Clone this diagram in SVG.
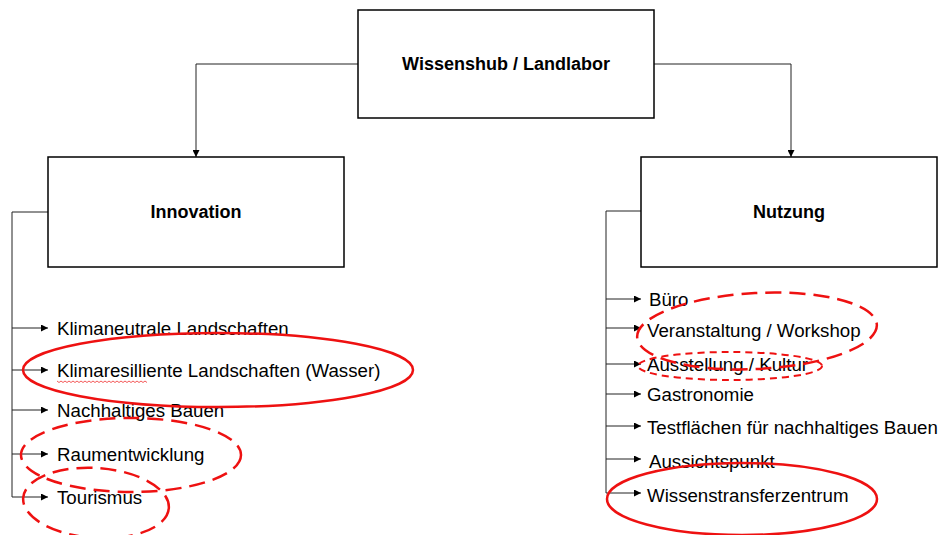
<svg xmlns="http://www.w3.org/2000/svg" width="941" height="535" viewBox="0 0 941 535">
<style>
.box{fill:#fff;stroke:#000;stroke-width:1.5}
.title{font-family:"Liberation Sans",Arial,sans-serif;font-weight:bold;font-size:18px;fill:#000;text-anchor:middle}
.item{font-family:"Liberation Sans",Arial,sans-serif;font-size:18.7px;fill:#000}
.con{fill:none;stroke:#222;stroke-width:1}
.mark{fill:none;stroke:#ee1111;stroke-width:2.5}
.dash1{stroke-dasharray:16 8}
.dash2{stroke-dasharray:7 5;stroke-width:2}
</style>
<defs>
<marker id="arr" viewBox="0 0 8 8" refX="8" refY="4" markerWidth="7" markerHeight="7" markerUnits="userSpaceOnUse" orient="auto">
<path d="M0,0 L8,4 L0,8 Z" fill="#000"/>
</marker>
</defs>
<rect width="941" height="535" fill="#fff"/>
<g id="connectors">
<path class="con" d="M358,64 H196 V157" marker-end="url(#arr)"/>
<path class="con" d="M654,64 H791 V157" marker-end="url(#arr)"/>
<path class="con" d="M48,212 H12 V497"/>
<path class="con" d="M12,328 H48" marker-end="url(#arr)"/>
<path class="con" d="M12,370 H48" marker-end="url(#arr)"/>
<path class="con" d="M12,410 H48" marker-end="url(#arr)"/>
<path class="con" d="M12,454 H48" marker-end="url(#arr)"/>
<path class="con" d="M12,497 H48" marker-end="url(#arr)"/>
<path class="con" d="M641,211 H606 V493"/>
<path class="con" d="M606,299 H641" marker-end="url(#arr)"/>
<path class="con" d="M606,328 H641" marker-end="url(#arr)"/>
<path class="con" d="M606,364 H641" marker-end="url(#arr)"/>
<path class="con" d="M606,394 H641" marker-end="url(#arr)"/>
<path class="con" d="M606,426 H641" marker-end="url(#arr)"/>
<path class="con" d="M606,459 H641" marker-end="url(#arr)"/>
<path class="con" d="M606,493 H641" marker-end="url(#arr)"/>
</g>
<g id="wissenshub">
<rect class="box" x="358" y="10" width="296" height="108"/>
<text class="title" x="506" y="70">Wissenshub / Landlabor</text>
</g>
<g id="innovation">
<rect class="box" x="48" y="157" width="296" height="110"/>
<text class="title" x="196" y="218">Innovation</text>
</g>
<g id="nutzung">
<rect class="box" x="641" y="157" width="296" height="110"/>
<text class="title" x="789" y="218">Nutzung</text>
</g>
<g id="innovation-items">
<text class="item" x="57" y="335">Klimaneutrale Landschaften</text>
<text class="item" x="57" y="377">Klimaresilliente Landschaften (Wasser)</text>
<text class="item" x="57" y="417">Nachhaltiges Bauen</text>
<text class="item" x="57" y="461">Raumentwicklung</text>
<text class="item" x="57" y="504">Tourismus</text>
</g>
<g id="nutzung-items">
<text class="item" x="649" y="306">Büro</text>
<text class="item" x="647" y="337">Veranstaltung / Workshop</text>
<text class="item" x="647" y="371">Ausstellung / Kultur</text>
<text class="item" x="647" y="401">Gastronomie</text>
<text class="item" x="647" y="434">Testflächen für nachhaltiges Bauen</text>
<text class="item" x="649" y="468">Aussichtspunkt</text>
<text class="item" x="647" y="502">Wissenstransferzentrum</text>
</g>
<g id="spellcheck">
<path d="M57,381 l2,1.5 l2,-1.5 l2,1.5 l2,-1.5 l2,1.5 l2,-1.5 l2,1.5 l2,-1.5 l2,1.5 l2,-1.5 l2,1.5 l2,-1.5 l2,1.5 l2,-1.5 l2,1.5 l2,-1.5 l2,1.5 l2,-1.5 l2,1.5 l2,-1.5 l2,1.5 l2,-1.5 l2,1.5 l2,-1.5 l2,1.5 l2,-1.5 l2,1.5 l2,-1.5 l2,1.5 l2,-1.5 l2,1.5 l2,-1.5 l2,1.5 l2,-1.5 l2,1.5 l2,-1.5 l2,1.5 l2,-1.5 l2,1.5 l2,-1.5 l2,1.5 l2,-1.5 l2,1.5 l2,-1.5 l2,1.5" fill="none" stroke="#ee1111" stroke-width="0.7"/>
</g>
<g id="highlights">
<ellipse class="mark" cx="218" cy="370" rx="195" ry="37"/>
<ellipse class="mark dash1" cx="131" cy="455" rx="110" ry="37"/>
<ellipse class="mark dash1" cx="96" cy="503" rx="73" ry="35" transform="rotate(4 96 503)"/>
<ellipse class="mark dash1" cx="757" cy="331" rx="120" ry="38" transform="rotate(-3 757 331)"/>
<ellipse class="mark dash2" cx="730" cy="366" rx="92" ry="14"/>
<ellipse class="mark" cx="742" cy="499" rx="135" ry="36"/>
</g>
</svg>
